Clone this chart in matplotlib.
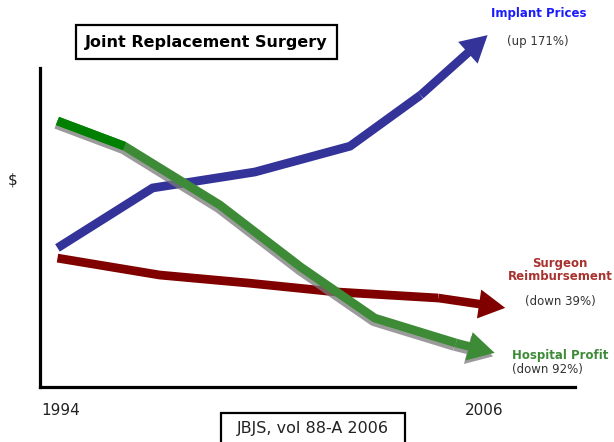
import matplotlib
matplotlib.use("Agg")
import matplotlib.pyplot as plt
import matplotlib.transforms as mtransforms
from matplotlib.patches import Rectangle

# ---- data (years, relative $ level) ----
implant_years = [1993.9, 1996.6, 1999.5, 2002.2, 2004.2, 2006.1]
implant_vals = [43.6, 62.4, 67.4, 75.5, 91.5, 110.3]

surgeon_years = [1993.9, 1996.8, 1999.3, 2001.8, 2004.7, 2006.6]
surgeon_vals = [40.4, 35.1, 32.6, 29.8, 27.9, 24.8]

hospital_years = [1993.9, 1995.8, 1998.5, 2000.8, 2002.9, 2005.2, 2006.3]
hospital_vals = [83.4, 75.5, 57.1, 37.6, 21.6, 13.8, 10.7]

x_labels = ["1994", "2006"]
x_label_years = [1994, 2006]

title = "Joint Replacement Surgery"
source = "JBJS, vol 88-A 2006"

BLUE = "#333399"
RED = "#800000"
GREEN = "#3d8b37"
GREEN_DARK = "#008000"
SHADOW = "#7a7a7a"

W, H = 614, 442
fig = plt.figure(figsize=(W / 100, H / 100), dpi=100)
ax = fig.add_axes([40 / W, 1 - 387 / H, (575 - 40) / W, (387 - 68) / H])
ax.set_xlim(1993.404, 2008.58)
ax.set_ylim(0, 100)
for s in ["top", "right"]:
    ax.spines[s].set_visible(False)
for s in ["left", "bottom"]:
    ax.spines[s].set_linewidth(2.3)
    ax.spines[s].set_color("black")
ax.set_xticks([])
ax.set_yticks([])

LW = 6.3


def arrow_line(xs, ys, color, z, transform=None, first_color=None, alpha=1.0):
    tr = transform if transform is not None else ax.transData
    ax.plot(xs[:-1], ys[:-1], color=color, lw=LW, solid_capstyle="butt",
            solid_joinstyle="miter", zorder=z, clip_on=False, transform=tr, alpha=alpha)
    if first_color is not None:
        ax.plot(xs[:2], ys[:2], color=first_color, lw=LW, solid_capstyle="butt",
                zorder=z + 0.1, clip_on=False, transform=tr, alpha=alpha)
    ax.annotate("", xy=(xs[-1], ys[-1]), xytext=(xs[-2], ys[-2]),
                xycoords=tr, textcoords=tr,
                arrowprops=dict(arrowstyle="simple,head_length=19,head_width=21,tail_width=6.2",
                                mutation_scale=1, color=color, lw=0, shrinkA=0, shrinkB=0,
                                alpha=alpha),
                zorder=z, annotation_clip=False)


arrow_line(implant_years, implant_vals, BLUE, 3)
arrow_line(surgeon_years, surgeon_vals, RED, 3)
shadow_tr = mtransforms.offset_copy(ax.transData, fig=fig, x=-1.5, y=-3.5, units="dots")
arrow_line(hospital_years, hospital_vals, SHADOW, 4, transform=shadow_tr, alpha=0.75)
arrow_line(hospital_years, hospital_vals, GREEN, 5, first_color=GREEN_DARK)

# ---- text ----
def ftxt(x, y, s, **kw):
    fig.text(x / W, 1 - y / H, s, **kw)

ftxt(206.5, 42, title, ha="center", va="center", fontsize=11.5, fontweight="bold",
     bbox=dict(boxstyle="square,pad=0.6", fc="white", ec="black", lw=1.6))

ftxt(539, 13, "Implant Prices", ha="center", va="center", fontsize=8.5,
     fontweight="bold", color="#1a1aff")
ftxt(538, 42, "(up 171%)", ha="center", va="center", fontsize=8.5, color="#333333")
ftxt(560, 263, "Surgeon", ha="center", va="center", fontsize=8.5,
     fontweight="bold", color="#a8322d")
ftxt(560, 277, "Reimbursement", ha="center", va="center", fontsize=8.5,
     fontweight="bold", color="#a8322d")
ftxt(560, 301, "(down 39%)", ha="center", va="center", fontsize=8.5, color="#333333")
ftxt(560, 356, "Hospital Profit", ha="center", va="center", fontsize=8.5,
     fontweight="bold", color=GREEN)
ftxt(512, 370, "(down 92%)", ha="left", va="center", fontsize=8.5, color="#333333")
ftxt(12.5, 180, "$", ha="center", va="center", fontsize=11, color="#222222")

for lab, yr in zip(x_labels, x_label_years):
    ax.text(yr, -7.5, lab, ha="center", va="center", fontsize=11, color="#222222",
            clip_on=False)

# source box (cut off at bottom)
fig.patches.append(Rectangle((221 / W, -0.05), (405 - 221) / W, 0.05 + (1 - 413 / H),
                             transform=fig.transFigure, fill=False, ec="black", lw=1.6))
ftxt(312.5, 428.5, source, ha="center", va="center", fontsize=11.5, color="#222222")

fig.savefig("out.png", dpi=100)
